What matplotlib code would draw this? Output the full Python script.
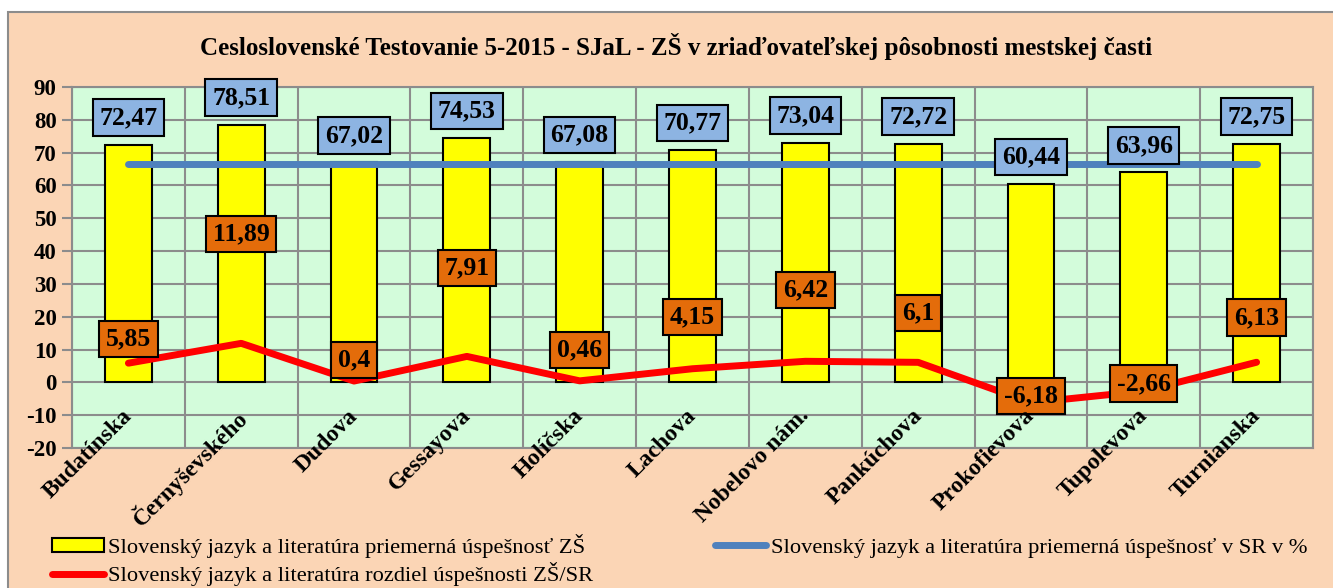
import numpy as np
import matplotlib.pyplot as plt
from matplotlib.patches import Rectangle
from matplotlib.lines import Line2D

schools = ["Budatínska", "Černyševského", "Dudova", "Gessayova", "Holíčska",
           "Lachova", "Nobelovo nám.", "Pankúchova", "Prokofievova",
           "Tupolevova", "Turnianska"]
zs_avg = [72.47, 78.51, 67.02, 74.53, 67.08, 70.77, 73.04, 72.72, 60.44, 63.96, 72.75]
sr_avg = [66.62, 66.62, 66.62, 66.62, 66.62, 66.62, 66.62, 66.62, 66.62, 66.62, 66.62]
diff = [5.85, 11.89, 0.4, 7.91, 0.46, 4.15, 6.42, 6.1, -6.18, -2.66, 6.13]
yticks = [-20, -10, 0, 10, 20, 30, 40, 50, 60, 70, 80, 90]

# where the orange labels sit (moved by hand in the original)
diff_label_y = [13.2, 45.2, 6.8, 34.8, 9.9, 20.0, 28.2, 21.2, -4.1, -0.3, 19.8]

peach = "#FBD5B5"
serif = ["Liberation Serif", "DejaVu Serif"]

fig = plt.figure(figsize=(13.33, 5.88), dpi=100, facecolor="white")
fig.patches.append(Rectangle((8 / 1333, -0.01), 1.0, 1 - 12 / 588 + 0.01,
                             transform=fig.transFigure, facecolor=peach,
                             edgecolor="#8C8C8C", lw=1.5, zorder=-10))

ax = fig.add_axes([72 / 1333, 1 - 448 / 588, (1313 - 72) / 1333, (448 - 87) / 588])
ax.set_facecolor("#D3FCDB")

x = np.arange(len(schools))
ax.bar(x, zs_avg, width=0.415, color="#FFFF00", edgecolor="black", lw=1.5, zorder=3)
ax.plot(x, sr_avg, color="#4F81BD", lw=5, solid_capstyle="round", zorder=4)
ax.plot(x, diff, color="#FF0000", lw=5, solid_capstyle="round", zorder=5)

for i, v in enumerate(zs_avg):
    ax.annotate(f"{v:.2f}".replace(".", ","), (i, v), xytext=(0, 19.5),
                textcoords="offset points", ha="center", va="center",
                fontsize=18.5, fontweight="bold", family=serif, zorder=6,
                bbox=dict(boxstyle="square,pad=0.26", fc="#8DB4E2", ec="black", lw=1.5))

for i, v in enumerate(diff):
    ax.text(i, diff_label_y[i], f"{v:g}".replace(".", ","), ha="center", va="center",
            fontsize=18.5, fontweight="bold", family=serif, zorder=6,
            bbox=dict(boxstyle="square,pad=0.26", fc="#E46C0A", ec="black", lw=1.5))

for i, name in enumerate(schools):
    ax.text(i - 0.06, -7.0, name, rotation=45, ha="right", va="top",
            rotation_mode="anchor", fontsize=17, fontweight="bold",
            family=serif, clip_on=False, zorder=7)

ax.set_xlim(-0.5, len(schools) - 0.5)
ax.set_ylim(-20, 90)
ax.set_yticks(yticks)
ax.set_yticklabels([str(t) for t in yticks], fontsize=16.5, fontweight="bold", family=serif)
ax.set_xticks([])
for b in np.arange(-0.5, len(schools), 1.0):
    ax.axvline(b, color="#8C8C8C", lw=1.5, zorder=1)
for t in yticks:
    ax.axhline(t, color="#8C8C8C", lw=1.5, zorder=1)
ax.tick_params(axis="y", length=7, width=1.5, color="#8C8C8C", pad=4)
for s in ax.spines.values():
    s.set_color("#8C8C8C")
    s.set_linewidth(1.5)

fig.text(0.5 * (195 + 1157) / 1333, 1 - 47 / 588,
         "Cesloslovenské Testovanie 5-2015 - SJaL - ZŠ v zriaďovateľskej pôsobnosti mestskej časti",
         ha="center", va="center", fontsize=18, fontweight="bold", family=serif)

h_bar = Rectangle((0, 0), 1, 1, fc="#FFFF00", ec="black", lw=1.5)
h_sr = Line2D([], [], color="#4F81BD", lw=5, solid_capstyle="round")
h_diff = Line2D([], [], color="#FF0000", lw=5, solid_capstyle="round")
leg = fig.legend([h_bar, h_diff, h_sr],
                 ["Slovenský jazyk a literatúra priemerná úspešnosť ZŠ",
                  "Slovenský jazyk a literatúra rozdiel úspešnosti ZŠ/SR",
                  "Slovenský jazyk a literatúra priemerná úspešnosť v SR v %"],
                 ncol=2, loc="upper left", bbox_to_anchor=(36 / 1333, 1 - 518 / 588),
                 frameon=False, prop={"family": serif, "size": 16.2},
                 handlelength=2.3, handleheight=0.6, handletextpad=0.2,
                 columnspacing=5.4, labelspacing=0.2, borderpad=0.2)

fig.savefig("out.png", dpi=100, facecolor=fig.get_facecolor())
